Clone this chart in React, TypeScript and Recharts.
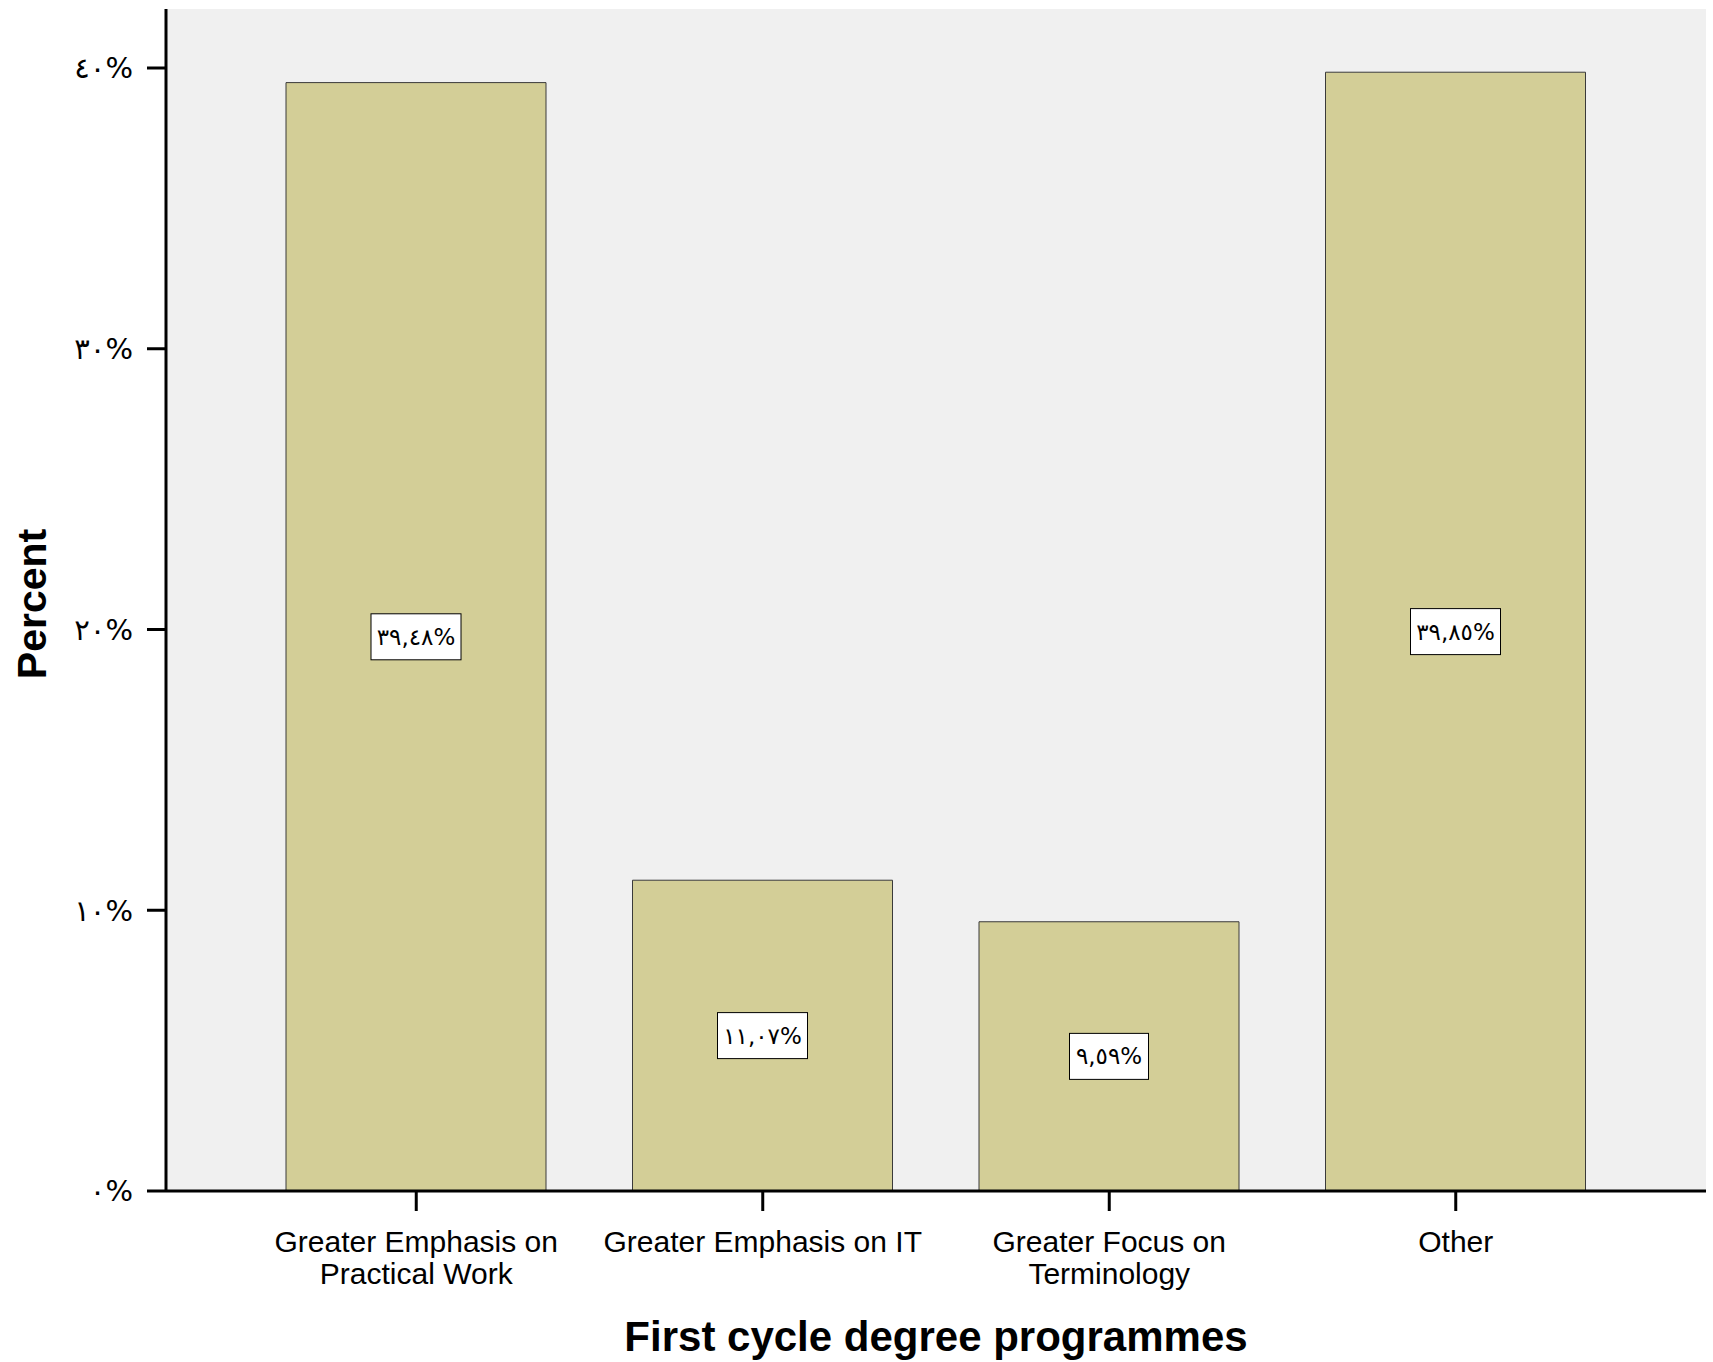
import React from 'react';
import { BarChart, Bar, XAxis, YAxis, CartesianGrid, LabelList } from 'recharts';

const categories = [
  'Greater Emphasis on\nPractical Work',
  'Greater Emphasis on IT',
  'Greater Focus on\nTerminology',
  'Other',
];
const percents = [39.48, 11.07, 9.59, 39.85];
const yTicks = [0, 10, 20, 30, 40];

const data = categories.map((c, i) => ({ category: c, percent: percents[i] }));

const arabicDigits = '٠١٢٣٤٥٦٧٨٩';
const toArabic = (s: string) => s.replace(/[0-9]/g, (d) => arabicDigits[+d]);
const fmtTick = (v: number) => toArabic(String(v)) + '%';
const fmtValue = (v: number) => toArabic(v.toFixed(2).replace('.', ',')) + '%';

const CategoryTick = (props: any) => {
  const { x, y, payload } = props;
  const lines = String(payload.value).split('\n');
  return (
    <text
      x={x}
      y={y}
      textAnchor="middle"
      fill="#000"
      fontSize={30}
      fontFamily="'Liberation Sans', Arial, sans-serif"
    >
      {lines.map((line, i) => (
        <tspan key={i} x={x} dy={i === 0 ? 41 : 32}>
          {line}
        </tspan>
      ))}
    </text>
  );
};

const BoxLabel = (props: any) => {
  const vb = props.viewBox || props;
  const { x, y, width, height } = vb;
  const text = fmtValue(Number(props.value));
  const digits = text.replace(/[^٠-٩]/g, '').length;
  const w = 46 + 11 * digits;
  const h = 46;
  const cx = x + width / 2;
  const cy = y + height / 2;
  return (
    <g>
      <rect x={cx - w / 2} y={cy - h / 2} width={w} height={h} fill="#fff" stroke="#000" strokeWidth={1} />
      <text
        x={cx}
        y={cy}
        textAnchor="middle"
        dominantBaseline="central"
        fontSize={23}
        fontFamily="'DejaVu Sans', sans-serif"
        fill="#000"
      >
        {text}
      </text>
    </g>
  );
};

const PercentTitle = (props: any) => {
  const vb = props.viewBox;
  const cx = vb.x + 32;
  const cy = vb.y + vb.height / 2 + 4;
  return (
    <text
      x={cx}
      y={cy}
      transform={`rotate(-90, ${cx}, ${cy})`}
      textAnchor="middle"
      dominantBaseline="central"
      fontSize={41}
      fontWeight="bold"
      fontFamily="'Liberation Sans', Arial, sans-serif"
      fill="#000"
    >
      Percent
    </text>
  );
};

export default function App() {
  return (
    <div style={{ position: 'absolute', left: 0, top: 0, background: '#fff' }}>
      <BarChart
        width={1713}
        height={1362}
        data={data}
        margin={{ top: 9, right: 7, left: 0, bottom: 0 }}
      >
        <CartesianGrid horizontal={false} vertical={false} fill="#f0f0f0" />
        <XAxis
          xAxisId="top"
          orientation="top"
          dataKey="category"
          height={0}
          tick={false}
          tickLine={false}
          axisLine={{ stroke: '#555', strokeWidth: 2 }}
        />
        <YAxis
          yAxisId="right"
          orientation="right"
          width={0}
          tick={false}
          tickLine={false}
          domain={[0, 40]}
          axisLine={{ stroke: '#333', strokeWidth: 2 }}
        />
        <YAxis
          domain={[0, 40]}
          ticks={yTicks}
          padding={{ top: 59 }}
          width={166}
          tickSize={19}
          tickMargin={14}
          tickFormatter={fmtTick}
          tick={{ fill: '#000', fontSize: 29, fontFamily: "'DejaVu Sans', sans-serif" }}
          tickLine={{ stroke: '#000', strokeWidth: 3 }}
          axisLine={{ stroke: '#000', strokeWidth: 3 }}
          label={{ content: PercentTitle }}
        />
        <XAxis
          dataKey="category"
          height={171}
          padding={{ left: 77, right: 77 }}
          tickSize={20}
          tickMargin={0}
          tick={<CategoryTick />}
          tickLine={{ stroke: '#000', strokeWidth: 3 }}
          axisLine={{ stroke: '#000', strokeWidth: 3 }}
          interval={0}
          label={{
            value: 'First cycle degree programmes',
            position: 'insideBottom',
            offset: 11,
            fill: '#000',
            fontSize: 42,
            fontWeight: 'bold',
            fontFamily: "'Liberation Sans', Arial, sans-serif",
          }}
        />
        <Bar
          dataKey="percent"
          barSize={260}
          fill="#d3ce97"
          stroke="#3a3a3a"
          strokeWidth={1}
          isAnimationActive={false}
        >
          <LabelList dataKey="percent" content={<BoxLabel />} />
        </Bar>
      </BarChart>
    </div>
  );
}
